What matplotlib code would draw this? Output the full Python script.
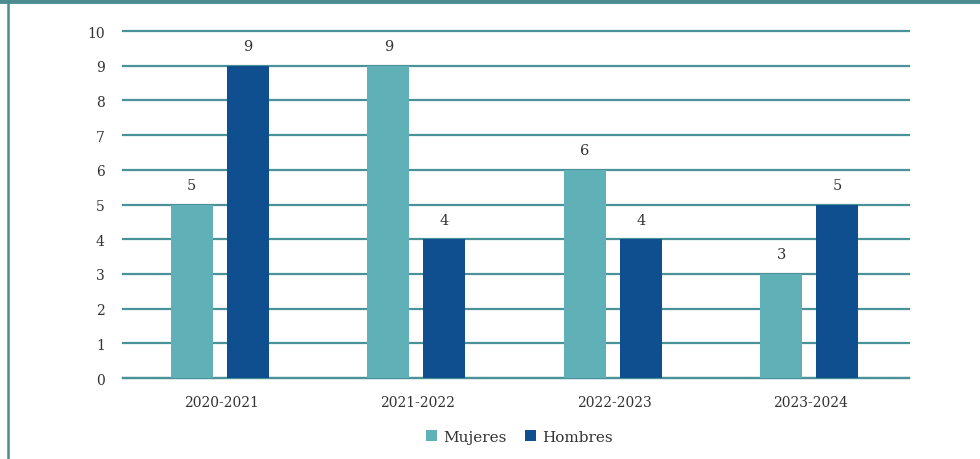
import matplotlib.pyplot as plt
import numpy as np
from matplotlib.lines import Line2D
from matplotlib.patches import Patch

periods = ["2020-2021", "2021-2022", "2022-2023", "2023-2024"]
mujeres = [5, 9, 6, 3]
hombres = [9, 4, 4, 5]
series_names = ["Mujeres", "Hombres"]
y_ticks = list(range(0, 11))

teal = "#5fb0b7"
navy = "#0f4e8f"
grid_col = "#4a9198"
border_col = "#4a8c91"

plt.rcParams["font.family"] = ["DejaVu Serif"]

fig = plt.figure(figsize=(9.8, 4.6), dpi=100)
ax = fig.add_axes([0.1255, 0.176, 0.8021, 0.7544])

x = np.arange(len(periods))
width = 0.214
b1 = ax.bar(x - 0.15, mujeres, width, color=teal, zorder=3)
b2 = ax.bar(x + 0.135, hombres, width, color=navy, zorder=3)

for bars, vals in ((b1, mujeres), (b2, hombres)):
    for rect, v in zip(bars, vals):
        ax.annotate(str(v), (rect.get_x() + rect.get_width() / 2, v),
                    xytext=(0, 9), textcoords="offset points",
                    ha="center", va="bottom", fontsize=10.5, color="#333333")

ax.set_xlim(-0.5, len(periods) - 0.5)
ax.set_ylim(0, 10)
ax.set_yticks(y_ticks)
ax.set_xticks(x)
ax.set_xticklabels(periods)
ax.tick_params(axis="both", length=0, labelsize=10, colors="#333333")
ax.tick_params(axis="y", pad=13)
ax.tick_params(axis="x", pad=12)
ax.yaxis.grid(True, color=grid_col, linewidth=1.6, zorder=0)
ax.set_axisbelow(True)
for gl in ax.get_ygridlines():
    gl.set_clip_on(False)
for side in ("top", "right", "left"):
    ax.spines[side].set_visible(False)
ax.spines["bottom"].set_color(grid_col)
ax.spines["bottom"].set_linewidth(1.6)

handles = [Patch(facecolor=teal, label=series_names[0]),
           Patch(facecolor=navy, label=series_names[1])]
fig.legend(handles=handles, loc="center", bbox_to_anchor=(0.53, 0.048),
           ncol=2, frameon=False, fontsize=11, handlelength=0.7,
           handleheight=0.7, handletextpad=0.4, columnspacing=1.2,
           labelcolor="#333333")

# frame lines at top and left
fig.add_artist(Line2D([0, 1], [0.995, 0.995], transform=fig.transFigure,
                      color=border_col, linewidth=3.5))
fig.add_artist(Line2D([0.0085, 0.0085], [0, 1], transform=fig.transFigure,
                      color=border_col, linewidth=1.8))

fig.savefig("out.png", dpi=100)
plt.close(fig)
